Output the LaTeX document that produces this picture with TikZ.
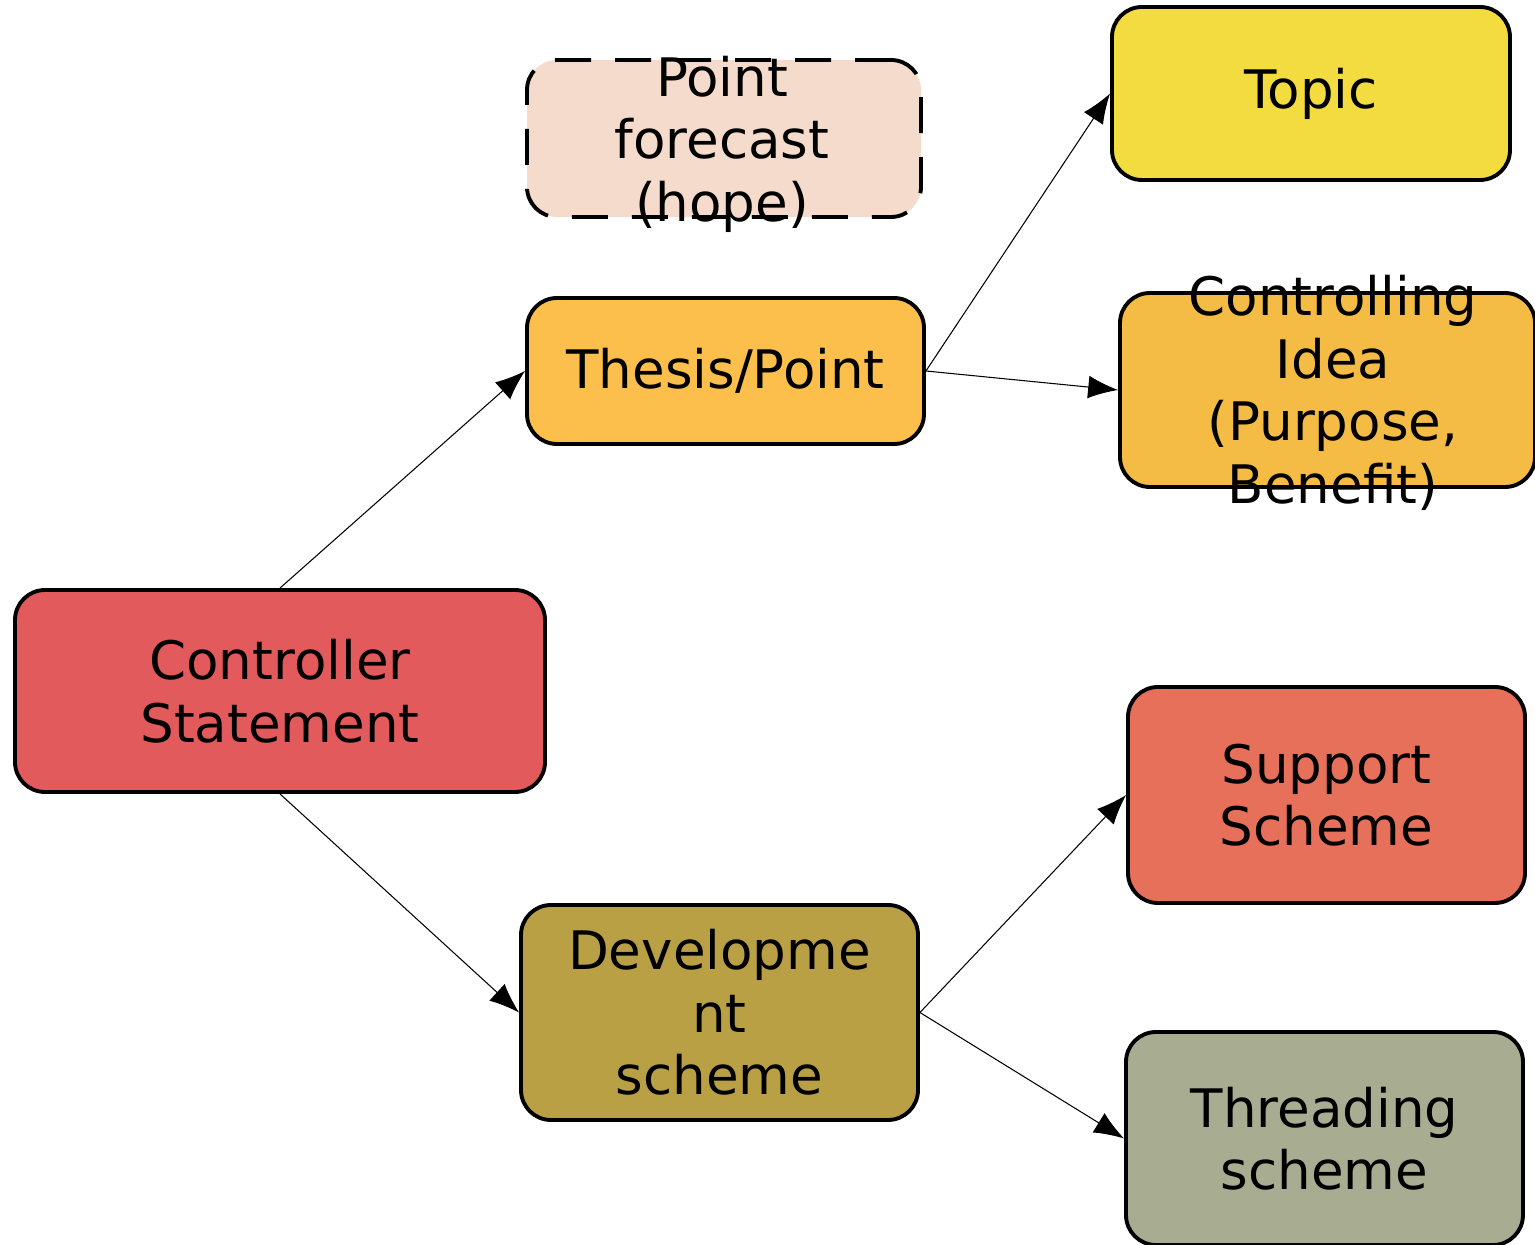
\documentclass[tikz,border=0pt]{standalone}
\usepackage{fontspec}
\setmainfont{DejaVu Sans}
\usetikzlibrary{arrows.meta}
\definecolor{ctrlred}{HTML}{E35A5C}
\definecolor{forepeach}{HTML}{F5DBCB}
\definecolor{thesisorange}{HTML}{FDBF4B}
\definecolor{topicyellow}{HTML}{F2DC40}
\definecolor{ideaorange}{HTML}{F4BB45}
\definecolor{develolive}{HTML}{B9A045}
\definecolor{supportred}{HTML}{E6705A}
\definecolor{threadgrey}{HTML}{A8AC90}
\begin{document}
\begin{tikzpicture}[
	box/.style={draw, line width=1.1pt, rounded corners=0.3cm, inner sep=0pt, align=center},
	txt/.style={align=center, inner sep=0pt},
	link/.style={line width=0.3pt, -{Latex[length=8.5pt,width=6.5pt]}},
	font=\fontsize{15.1}{17.8}\selectfont]
	\useasboundingbox (0,0) rectangle (15.35,-12.45);
	% left
	\node[box, fill=ctrlred, minimum width=5.3cm, minimum height=2.02cm] (ctrl) at (2.80,-6.91) {Controller\\Statement};
	% middle column
	\node[box, dashed, dash pattern=on 0.36cm off 0.24cm, fill=forepeach, minimum width=3.94cm, minimum height=1.57cm] (fore) at (7.24,-1.385) {};
	\node[txt] (fore-t) at (7.22,-1.44) {Point\\forecast\\(hope)};
	\node[box, fill=thesisorange, minimum width=3.97cm, minimum height=1.46cm] (thesis) at (7.255,-3.71) {Thesis/Point};
	\node[box, fill=develolive, minimum width=3.97cm, minimum height=2.15cm] (devel) at (7.195,-10.125) {Developme\\nt\\scheme};
	% right column
	\node[box, fill=topicyellow, minimum width=3.98cm, minimum height=1.73cm] (topic) at (13.11,-0.935) {Topic};
	\node[box, fill=ideaorange, minimum width=4.15cm, minimum height=1.94cm] (idea) at (13.275,-3.90) {};
	\node[txt] (idea-t) at (13.33,-3.93) {Controlling\\Idea\\(Purpose,\\Benefit)};
	\node[box, fill=supportred, minimum width=3.97cm, minimum height=2.16cm] (support) at (13.265,-7.95) {Support\\Scheme};
	\node[box, fill=threadgrey, minimum width=3.97cm, minimum height=2.13cm] (thread) at (13.245,-11.385) {Threading\\scheme};
	% arrows
	\draw[link] (ctrl.north) -- (thesis.west);
	\draw[link] (ctrl.south) -- (devel.west);
	\draw[link] (thesis.east) -- (topic.west);
	\draw[link] (thesis.east) -- (idea.west);
	\draw[link] (devel.east) -- (support.west);
	\draw[link] (devel.east) -- (thread.west);
\end{tikzpicture}
\end{document}
